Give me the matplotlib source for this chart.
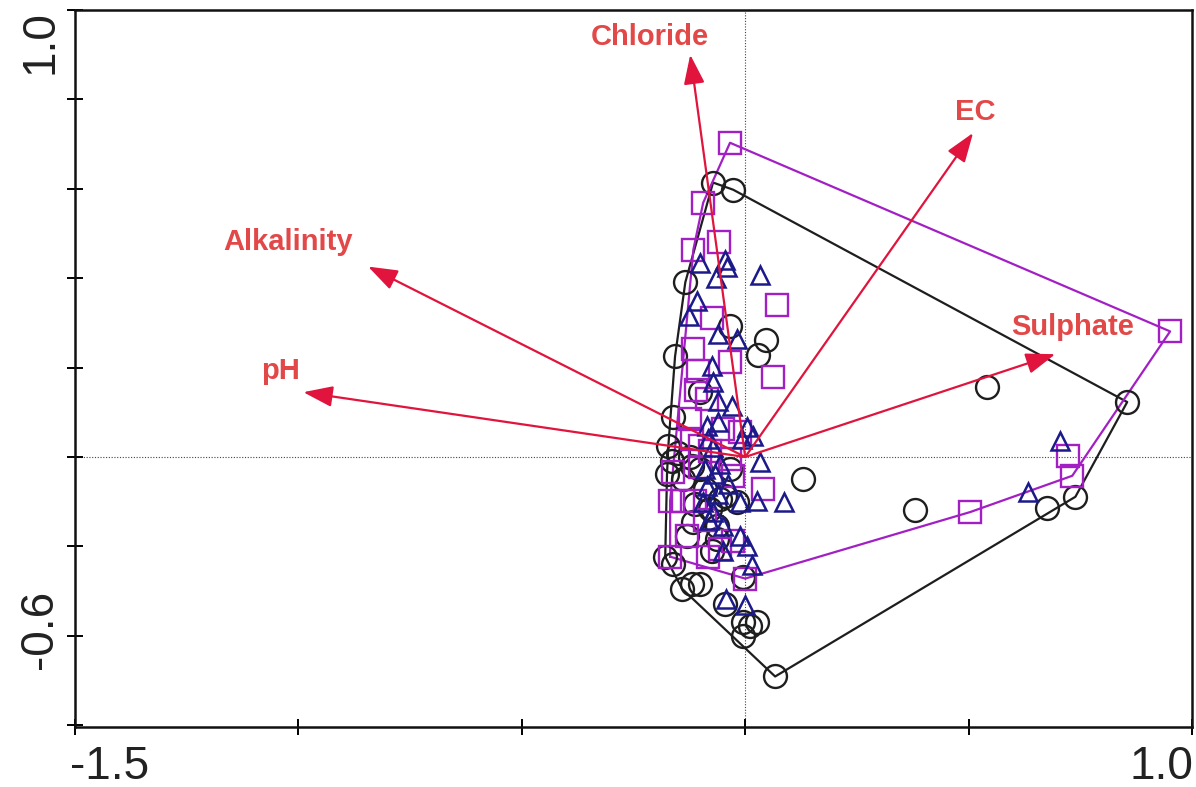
import numpy as np
import matplotlib
matplotlib.use("Agg")
import matplotlib.pyplot as plt

plt.rcParams['font.family'] = ['Liberation Sans', 'DejaVu Sans']

# sample scores, group 1 (circles)
circle_x = [-0.072, -0.027, -0.134, -0.034, 0.047, 0.029, -0.157, -0.101, -0.161, 0.542,
            0.855, -0.172, -0.163, -0.175, -0.139, -0.101, -0.123, 0.130, 0.380, 0.676,
            0.739, -0.045, -0.018, -0.056, -0.116, -0.063, -0.130, -0.063, -0.074, -0.179,
            -0.161, -0.141, -0.119, -0.101, -0.045, -0.004, 0.027, 0.011, -0.004, 0.067,
            -0.004, -0.089, -0.034, -0.078, -0.112, -0.150, -0.120]
circle_y = [0.614, 0.598, 0.391, 0.292, 0.261, 0.228, 0.225, 0.145, 0.089, 0.156,
            0.123, 0.025, -0.009, -0.038, -0.049, -0.027, 0.000, -0.049, -0.118, -0.114,
            -0.089, -0.087, -0.100, -0.094, -0.145, -0.154, -0.176, -0.183, -0.210, -0.223,
            -0.239, -0.295, -0.283, -0.283, -0.328, -0.368, -0.368, -0.377, -0.400, -0.491,
            -0.268, -0.071, -0.027, -0.116, -0.105, 0.010, -0.020]

# group 2 (squares)
square_x = [-0.034, -0.094, -0.116, -0.058, 0.072, -0.074, -0.116, -0.034, 0.063, -0.105,
            -0.085, -0.123, -0.049, -0.011, -0.101, -0.078, -0.034, -0.161, -0.101, -0.027,
            0.040, -0.168, -0.139, -0.112, -0.130, -0.056, -0.027, -0.083, -0.168, 0.000,
            0.504, 0.723, 0.732, 0.951, -0.110, -0.090, -0.120]
square_y = [0.703, 0.569, 0.464, 0.482, 0.341, 0.312, 0.241, 0.212, 0.179, 0.192,
            0.129, 0.085, 0.062, 0.056, 0.025, 0.013, -0.004, -0.033, -0.022, -0.042,
            -0.071, -0.098, -0.098, -0.098, -0.176, -0.205, -0.188, -0.223, -0.223, -0.272,
            -0.123, 0.002, -0.042, 0.281, 0.150, -0.140, 0.040]

# group 3 (triangles)
tri_x = [-0.101, -0.045, -0.040, -0.065, 0.034, -0.107, -0.125, -0.060, -0.018, -0.074,
         -0.072, -0.060, -0.029, -0.085, -0.060, 0.004, 0.018, -0.083, -0.072, -0.007,
         0.034, 0.027, 0.087, -0.011, -0.085, -0.094, -0.072, -0.049, -0.011, 0.004,
         0.016, -0.043, 0.000, 0.705, 0.633, -0.056, -0.067, -0.038, -0.060, -0.089,
         -0.080, -0.050]
tri_y = [0.433, 0.440, 0.426, 0.400, 0.408, 0.348, 0.315, 0.275, 0.263, 0.203,
         0.167, 0.125, 0.114, 0.069, 0.078, 0.067, 0.047, 0.040, 0.022, 0.040,
         -0.011, -0.098, -0.100, -0.100, -0.065, -0.100, -0.123, -0.154, -0.176, -0.199,
         -0.241, -0.317, -0.330, 0.036, -0.078, -0.016, -0.038, -0.060, -0.083, -0.027,
         -0.140, -0.210]

# environmental variables (arrow tips)
env_names = ["Chloride", "EC", "Alkalinity", "pH", "Sulphate"]
env_x = [-0.123, 0.510, -0.844, -0.989, 0.694]
env_y = [0.900, 0.725, 0.426, 0.145, 0.230]
label_x = [-0.213, 0.515, -1.023, -1.041, 0.732]
label_y = [0.940, 0.772, 0.480, 0.192, 0.290]

BLACK = '#1e1e1e'
PURPLE = '#a21fc4'
NAVY = '#1c1a8a'
ARROW = '#e0143c'
LABEL = '#e24848'


def convex_hull(xs, ys):
    pts = sorted(set(zip(xs, ys)))

    def cross(o, a, b):
        return (a[0] - o[0]) * (b[1] - o[1]) - (a[1] - o[1]) * (b[0] - o[0])

    lower = []
    for p in pts:
        while len(lower) >= 2 and cross(lower[-2], lower[-1], p) <= 0:
            lower.pop()
        lower.append(p)
    upper = []
    for p in reversed(pts):
        while len(upper) >= 2 and cross(upper[-2], upper[-1], p) <= 0:
            upper.pop()
        upper.append(p)
    hull = lower[:-1] + upper[:-1]
    hull.append(hull[0])
    return np.array(hull)


W, H = 1196, 787
fig = plt.figure(figsize=(W / 100, H / 100), dpi=100)
ax = fig.add_axes([75 / W, 1 - 727 / H, (1192 - 75) / W, (727 - 10) / H])
ax.set_xlim(-1.5, 1.0)
ax.set_ylim(-0.604, 1.0)

ax.axhline(0, color='#444444', lw=0.8, ls=(0, (1, 1.5)), zorder=1)
ax.axvline(0, color='#444444', lw=0.8, ls=(0, (1, 1.5)), zorder=1)

h1 = convex_hull(circle_x, circle_y)
ax.plot(h1[:, 0], h1[:, 1], color=BLACK, lw=1.6, zorder=2)
h2 = convex_hull(square_x, square_y)
ax.plot(h2[:, 0], h2[:, 1], color=PURPLE, lw=1.6, zorder=2)

ax.plot(circle_x, circle_y, 'o', ms=16.5, mfc='none', mec=BLACK, mew=1.7, zorder=3)
ax.plot(square_x, square_y, 's', ms=15.5, mfc='none', mec=PURPLE, mew=1.7, zorder=3)
ax.plot(tri_x, tri_y, '^', ms=13, mfc='none', mec=NAVY, mew=1.8, zorder=4)

for name, ex, ey, lx, ly in zip(env_names, env_x, env_y, label_x, label_y):
    ax.annotate('', xy=(ex, ey), xytext=(0, 0),
                arrowprops=dict(arrowstyle='-|>,head_length=0.9,head_width=0.32',
                                mutation_scale=20, color=ARROW, lw=1.6,
                                shrinkA=0, shrinkB=0),
                zorder=5)
    ax.text(lx, ly, name, color=LABEL, fontsize=21, fontweight='bold',
            ha='center', va='center', zorder=6)

for s in ax.spines.values():
    s.set_linewidth(1.8)
    s.set_color('#111111')

ax.set_xticks([-1.5, -1.0, -0.5, 0.0, 0.5, 1.0])
ax.set_yticks([-0.6, -0.4, -0.2, 0.0, 0.2, 0.4, 0.6, 0.8, 1.0])
ax.tick_params(direction='inout', length=12, width=1.4, labelbottom=False,
               labelleft=False, top=False, right=False)

tick_font = dict(fontsize=33, color='#222222')
fig.text(70 / W, 1 - 745 / H, '-1.5', ha='left', va='top', **tick_font)
fig.text(1193 / W, 1 - 745 / H, '1.0', ha='right', va='top', **tick_font)
fig.text(40 / W, 1 - 10 / H, '1.0', ha='center', va='top', rotation=90, **tick_font)
fig.text(40 / W, 1 - 629 / H, '-0.6', ha='center', va='center', rotation=90, **tick_font)

fig.savefig('out.png', dpi=100)
